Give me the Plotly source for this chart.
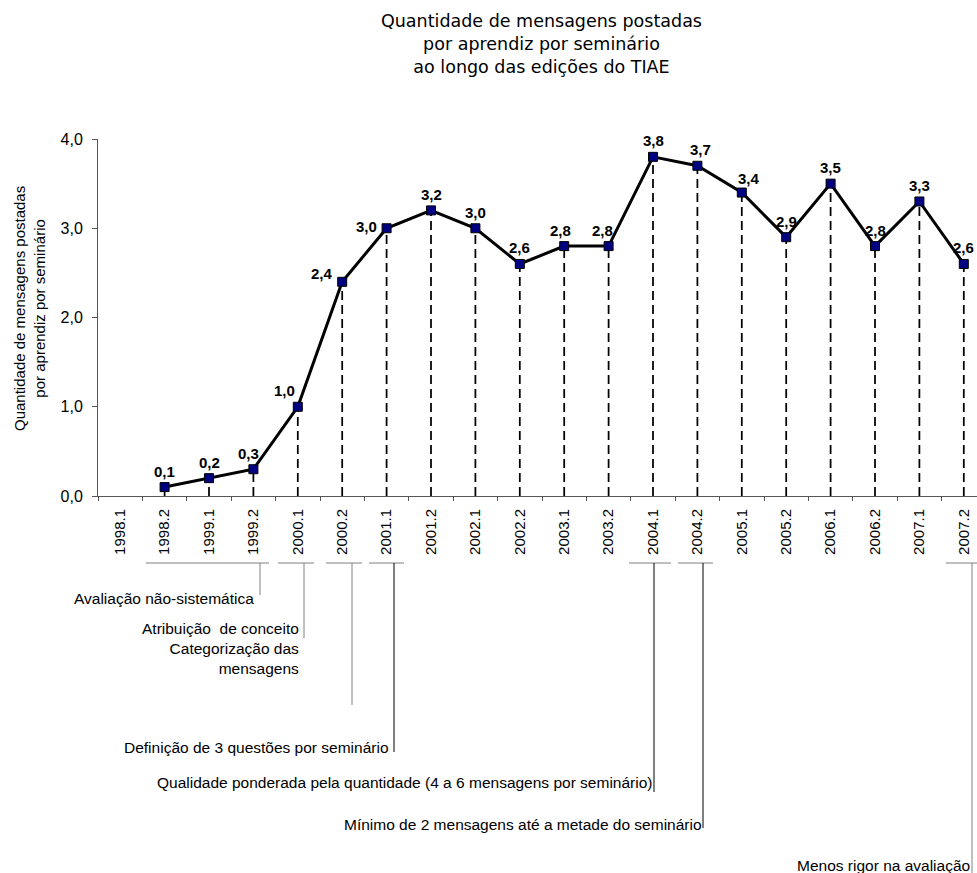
import plotly.graph_objects as go

# Semesters (editions of TIAE) and messages posted per learner per seminar
periods = ["1998.1", "1998.2", "1999.1", "1999.2", "2000.1", "2000.2", "2001.1",
           "2001.2", "2002.1", "2002.2", "2003.1", "2003.2", "2004.1", "2004.2",
           "2005.1", "2005.2", "2006.1", "2006.2", "2007.1", "2007.2"]
msgs_per_learner = [None, 0.1, 0.2, 0.3, 1.0, 2.4, 3.0, 3.2, 3.0, 2.6, 2.8, 2.8,
                    3.8, 3.7, 3.4, 2.9, 3.5, 2.8, 3.3, 2.6]
y_ticks = [0, 1, 2, 3, 4]

# Evaluation-criteria notes shown under the axis
notes = [
    "Avaliação não-sistemática",
    "Atribuição\u00a0 de conceito<br>Categorização das<br>mensagens",
    "",
    "Definição de 3 questões por seminário",
    "Qualidade ponderada pela quantidade (4 a 6 mensagens por seminário)",
    "Mínimo de 2 mensagens até a metade do seminário",
    "Menos rigor na avaliação",
]

# ---- layout geometry (pixels) ----
W, H = 977, 873
L, R, T, B = 98, 0, 139, 377
PW, PH = W - L - R, H - T - B
CAT_W = 44.4
x_max = -0.5 + PW / CAT_W

ARIAL = "Arial, Liberation Sans, sans-serif"
AXIS_COL = "#555555"


def px_x(px):
    return (px - L) / PW


def px_y(py):
    return (H - B - py) / PH


fig = go.Figure()

# dashed drop lines from each point to the axis
drop_x, drop_y = [], []
for p, v in zip(periods, msgs_per_learner):
    if v is None:
        continue
    drop_x += [p, p, None]
    drop_y += [0, v, None]
fig.add_trace(go.Scatter(
    x=drop_x, y=drop_y, mode="lines",
    line=dict(color="black", width=1.75, dash="9px,5px"),
    hoverinfo="skip", showlegend=False,
))

# main series
fig.add_trace(go.Scatter(
    x=periods, y=msgs_per_learner, mode="lines+markers",
    line=dict(color="black", width=3),
    marker=dict(symbol="square", size=9, color="#000080",
                line=dict(color="black", width=1)),
    showlegend=False,
))

# value labels (x given as category index), nudged clear of the line
label_nudge = {"1999.2": -5, "2000.1": -13, "2000.2": -20, "2001.1": -20,
               "2003.1": -4, "2003.2": -6, "2004.2": 3, "2005.1": 7}
label_lift = {"2000.2": 8, "2001.1": 2, "2005.1": 14}
for i, (p, v) in enumerate(zip(periods, msgs_per_learner)):
    if v is None:
        continue
    fig.add_annotation(
        x=i, y=v, text=f"{v:.1f}".replace(".", ","), showarrow=False,
        xshift=label_nudge.get(p, 0), yshift=label_lift.get(p, 16),
        font=dict(family=ARIAL, size=15, color="black", weight="bold"),
        xanchor="center", yanchor="middle",
    )

# brackets under the axis: (left, right, drop x, drop end y, text right x, text y, colour)
bracket_y = 563
brackets = [
    (146, 269, 260, 595, 256, 598, "#808080"),
    (278, 314, 304, 638, 301, 648, "#808080"),
    (326, 362, 352, 705, None, None, "#808080"),
    (369, 404, 394, 752, 391, 747, "#000000"),
    (629, 671, 654, 792, 654, 782, "#000000"),
    (678, 713, 703, 828, 704, 825, "#000000"),
    (946, 977, 972, 873, 972, 865, "#808080"),
]
for (x0, x1, xv, yv, tx, ty, col), note in zip(brackets, notes):
    fig.add_shape(type="line", xref="paper", yref="paper",
                  x0=px_x(x0), x1=px_x(x1), y0=px_y(bracket_y), y1=px_y(bracket_y),
                  line=dict(color="#808080", width=1))
    fig.add_shape(type="line", xref="paper", yref="paper",
                  x0=px_x(xv), x1=px_x(xv), y0=px_y(bracket_y), y1=px_y(yv),
                  line=dict(color=col, width=1))
    if note:
        fig.add_annotation(
            xref="paper", yref="paper", x=px_x(tx), y=px_y(ty),
            text=note, showarrow=False, align="right",
            xanchor="right", yanchor="middle",
            font=dict(family=ARIAL, size=15.5, color="black"),
        )

# y-axis title
fig.add_annotation(
    xref="paper", yref="paper", x=px_x(29), y=px_y(309),
    text="Quantidade de mensagens postadas<br>por aprendiz por seminário",
    textangle=-90, showarrow=False, xanchor="center", yanchor="middle",
    font=dict(family=ARIAL, size=15, color="black"),
)

# chart title
fig.add_annotation(
    xref="paper", yref="paper", x=px_x(541), y=px_y(44),
    text="Quantidade de mensagens postadas<br>por aprendiz por seminário<br>ao longo das edições do TIAE",
    showarrow=False, xanchor="center", yanchor="middle", align="center",
    font=dict(family="Verdana, DejaVu Sans, sans-serif", size=17.5, color="black"),
)

fig.update_layout(
    width=W, height=H,
    margin=dict(l=L, r=R, t=T, b=B, pad=0),
    paper_bgcolor="white", plot_bgcolor="white",
    separators=",.",
    showlegend=False,
    xaxis=dict(
        type="category", categoryorder="array", categoryarray=periods,
        range=[-0.5, x_max], showgrid=False, zeroline=False,
        showline=True, linecolor=AXIS_COL, linewidth=1,
        ticks="outside", tickson="boundaries", ticklen=4, tickcolor=AXIS_COL,
        tickangle=-90, ticklabelstandoff=6,
        tickfont=dict(family=ARIAL, size=15, color="black"),
    ),
    yaxis=dict(
        range=[0, 4], tickvals=y_ticks, tickformat=".1f",
        showgrid=False, zeroline=False,
        showline=True, linecolor=AXIS_COL, linewidth=1,
        ticks="outside", ticklen=5, tickcolor=AXIS_COL, ticklabelstandoff=6,
        tickfont=dict(family=ARIAL, size=16, color="black"),
    ),
)

fig.write_html("out.html")
